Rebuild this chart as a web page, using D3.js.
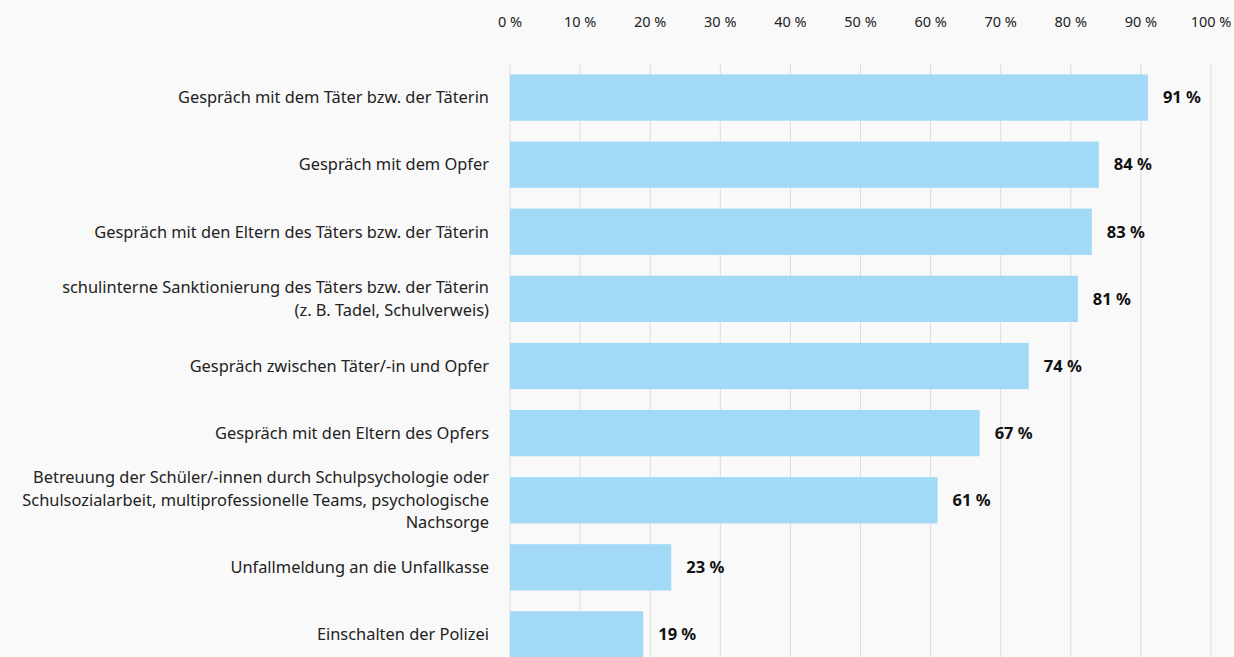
<!DOCTYPE html>
<html>
<head>
    <meta charset="utf-8">
    <script src="https://d3js.org/d3.v7.min.js"></script>
    <style>
        body {
            margin: 0;
            background-color: #f9f9f9;
            font-family: "Noto Sans", sans-serif;
        }
        .tick-label {
            font-size: 14.5px;
            fill: #222;
        }
        .cat-label {
            font-size: 16.4px;
            fill: #222;
        }
        .value-label {
            font-size: 16.5px;
            font-weight: bold;
            fill: #111;
        }
    </style>
</head>
<body>
<svg id="chart"></svg>
<script>
    // categories (one entry per line of the label)
    const categories = [
        ["Gespräch mit dem Täter bzw. der Täterin"],
        ["Gespräch mit dem Opfer"],
        ["Gespräch mit den Eltern des Täters bzw. der Täterin"],
        ["schulinterne Sanktionierung des Täters bzw. der Täterin", "(z. B. Tadel, Schulverweis)"],
        ["Gespräch zwischen Täter/-in und Opfer"],
        ["Gespräch mit den Eltern des Opfers"],
        ["Betreuung der Schüler/-innen durch Schulpsychologie oder", "Schulsozialarbeit, multiprofessionelle Teams, psychologische", "Nachsorge"],
        ["Unfallmeldung an die Unfallkasse"],
        ["Einschalten der Polizei"]
    ];
    const values = [91, 84, 83, 81, 74, 67, 61, 23, 19];
    const tickValues = [0, 10, 20, 30, 40, 50, 60, 70, 80, 90, 100];

    const width = 1234;
    const height = 657;

    const svg = d3.select("#chart")
        .attr("width", width)
        .attr("height", height);

    const x = d3.scaleLinear()
        .domain([0, 100])
        .range([510, 1211]);

    const y = d3.scaleBand()
        .domain(d3.range(categories.length))
        .range([64, 668])
        .paddingInner(0.31)
        .paddingOuter(0.155);

    // gridlines
    svg.append("g")
        .selectAll("line")
        .data(tickValues)
        .join("line")
        .attr("x1", d => x(d))
        .attr("x2", d => x(d))
        .attr("y1", 64)
        .attr("y2", height)
        .attr("stroke", "#dcdcdc")
        .attr("stroke-width", 1);

    // top tick labels
    svg.append("g")
        .selectAll("text")
        .data(tickValues)
        .join("text")
        .attr("class", "tick-label")
        .attr("x", d => x(d))
        .attr("y", 22)
        .attr("dy", "0.35em")
        .attr("text-anchor", "middle")
        .text(d => d + " %");

    // bars
    svg.append("g")
        .selectAll("rect")
        .data(values)
        .join("rect")
        .attr("x", x(0))
        .attr("y", (d, i) => y(i))
        .attr("width", d => x(d) - x(0))
        .attr("height", y.bandwidth())
        .attr("fill", "#a1d9f6");

    // value labels
    svg.append("g")
        .selectAll("text")
        .data(values)
        .join("text")
        .attr("class", "value-label")
        .attr("x", d => x(d) + 15)
        .attr("y", (d, i) => y(i) + y.bandwidth() / 2)
        .attr("dy", "0.35em")
        .text(d => d + " %");

    // category labels
    const lineHeight = 22.5;
    const labels = svg.append("g")
        .selectAll("text")
        .data(categories)
        .join("text")
        .attr("class", "cat-label")
        .attr("text-anchor", "end")
        .attr("x", 489)
        .attr("y", (d, i) => y(i) + y.bandwidth() / 2 - (d.length - 1) * lineHeight / 2);

    labels.selectAll("tspan")
        .data(d => d)
        .join("tspan")
        .attr("x", 489)
        .attr("dy", (d, i) => i === 0 ? "0.35em" : lineHeight)
        .text(d => d);
</script>
</body>
</html>
